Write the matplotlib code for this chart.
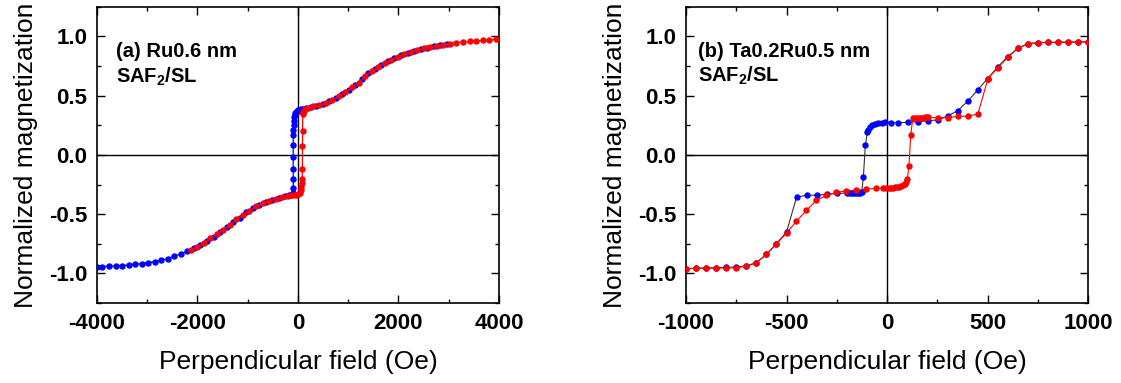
import matplotlib
matplotlib.use("Agg")
import matplotlib.pyplot as plt
from matplotlib.ticker import MultipleLocator

plt.rcParams['font.family'] = ['Liberation Sans', 'DejaVu Sans']
plt.rcParams['mathtext.fontset'] = 'custom'
plt.rcParams['mathtext.rm'] = 'Liberation Sans:bold'
plt.rcParams['mathtext.bf'] = 'Liberation Sans:bold'
plt.rcParams['axes.unicode_minus'] = False

# ---- (a) Ru0.6 nm : field in Oe, normalized magnetization ----
a_down_field = [2960, 2830, 2700, 2570, 2440, 2310, 2180, 2050, 1920, 1790,
                1660, 1530, 1400, 1270, 1140, 1010, 880, 750, 620, 490, 360,
                250, 160, 100, 60, 30, 10, -5, -20, -35, -50, -60, -70, -78,
                -85, -90, -93, -95, -95, -95, -94, -93, -100, -130, -180, -260,
                -380, -510, -640, -770, -900, -1030, -1160, -1290, -1420,
                -1550, -1680, -1810, -1940, -2070, -2200, -2330, -2460, -2590,
                -2720, -2850, -2980, -3110, -3240, -3370, -3500, -3630, -3760,
                -3890, -4000]
a_down_mag = [0.937, 0.928, 0.918, 0.905, 0.892, 0.877, 0.86, 0.84, 0.818,
              0.795, 0.76, 0.725, 0.69, 0.64, 0.59, 0.55, 0.515, 0.48, 0.455,
              0.43, 0.415, 0.405, 0.395, 0.39, 0.385, 0.38, 0.378, 0.375, 0.37,
              0.365, 0.355, 0.34, 0.32, 0.29, 0.25, 0.21, 0.17, 0.08, -0.02,
              -0.12, -0.2, -0.28, -0.32, -0.335, -0.34, -0.345, -0.36, -0.38,
              -0.4, -0.42, -0.45, -0.485, -0.53, -0.57, -0.61, -0.65, -0.69,
              -0.725, -0.76, -0.79, -0.815, -0.835, -0.855, -0.875, -0.89,
              -0.9, -0.91, -0.918, -0.925, -0.93, -0.935, -0.938, -0.94,
              -0.943, -0.945]
a_up_field = [-2135, -2005, -1875, -1745, -1615, -1485, -1355, -1225, -1095,
              -965, -835, -705, -575, -445, -315, -200, -120, -60, -20, 10, 35,
              55, 70, 78, 84, 88, 90, 92, 95, 100, 120, 150, 200, 300, 425,
              555, 685, 815, 945, 1075, 1205, 1335, 1465, 1595, 1725, 1855,
              1985, 2115, 2245, 2375, 2505, 2635, 2765, 2895, 3025, 3155, 3285,
              3415, 3545, 3675, 3805, 3935]
a_up_mag = [-0.8, -0.775, -0.745, -0.705, -0.665, -0.63, -0.59, -0.545,
            -0.505, -0.47, -0.435, -0.41, -0.39, -0.37, -0.352, -0.345, -0.342,
            -0.34, -0.335, -0.33, -0.32, -0.3, -0.27, -0.24, -0.2, -0.115,
            0.075, 0.2, 0.345, 0.36, 0.375, 0.385, 0.395, 0.41, 0.418, 0.44,
            0.465, 0.495, 0.53, 0.57, 0.61, 0.665, 0.71, 0.745, 0.78, 0.805,
            0.83, 0.85, 0.868, 0.885, 0.9, 0.912, 0.922, 0.932, 0.94, 0.948,
            0.953, 0.958, 0.963, 0.967, 0.972, 0.977]

# ---- (b) Ta0.2Ru0.5 nm ----
b_down_field = [1000, 950, 900, 850, 800, 750, 700, 650, 600, 550, 500, 452,
                403, 353, 303, 254, 204, 154, 104, 55, 20, -10, -26, -43, -60,
                -73, -85, -93, -98, -108, -118, -126, -135, -145, -155, -165,
                -175, -185, -200, -250, -300, -350, -400, -450, -500, -550,
                -600, -650, -700, -750, -800, -850, -900, -950, -1000]
b_down_mag = [0.955, 0.952, 0.952, 0.95, 0.95, 0.948, 0.94, 0.90, 0.83, 0.74,
              0.645, 0.55, 0.457, 0.375, 0.33, 0.295, 0.29, 0.28, 0.277, 0.27,
              0.272, 0.275, 0.27, 0.269, 0.263, 0.252, 0.233, 0.21, 0.19, 0.08,
              -0.19, -0.315, -0.32, -0.32, -0.322, -0.322, -0.322, -0.323,
              -0.323, -0.325, -0.333, -0.34, -0.34, -0.357, -0.65, -0.75,
              -0.84, -0.91, -0.938, -0.947, -0.95, -0.952, -0.955, -0.957,
              -0.96]
b_up_field = [-1000, -950, -900, -850, -800, -750, -700, -650, -600, -550,
              -500, -451, -401, -351, -302, -252, -202, -152, -103, -53, -20,
              -3, 10, 20, 30, 40, 50, 60, 70, 80, 88, 95, 101, 109, 118, 128,
              137, 147, 157, 167, 177, 187, 197, 204, 254, 303, 353, 403, 452,
              502, 552, 601, 651, 700, 750, 800, 850, 900, 950, 1000]
b_up_mag = [-0.96, -0.958, -0.957, -0.955, -0.955, -0.952, -0.94, -0.91,
            -0.84, -0.75, -0.66, -0.56, -0.468, -0.384, -0.342, -0.317, -0.303,
            -0.297, -0.289, -0.283, -0.281, -0.28, -0.28, -0.279, -0.277,
            -0.275, -0.272, -0.268, -0.262, -0.255, -0.245, -0.232, -0.205,
            -0.09, 0.17, 0.31, 0.312, 0.315, 0.315, 0.316, 0.316, 0.317, 0.317,
            0.317, 0.313, 0.316, 0.325, 0.328, 0.345, 0.644, 0.737, 0.826,
            0.90, 0.935, 0.947, 0.95, 0.952, 0.953, 0.955, 0.955]


def style_axes(ax, xlim, xmajor, xminor):
    ax.set_xlim(xlim)
    ax.set_ylim(-1.25, 1.25)
    ax.xaxis.set_major_locator(MultipleLocator(xmajor))
    ax.xaxis.set_minor_locator(MultipleLocator(xminor))
    ax.yaxis.set_major_locator(MultipleLocator(0.5))
    ax.yaxis.set_minor_locator(MultipleLocator(0.25))
    ax.tick_params(which='both', direction='in', top=True, right=True,
                   width=1.0, labelsize=16)
    ax.tick_params(which='major', length=6, pad=7)
    ax.tick_params(which='minor', length=3)
    for lab in ax.get_xticklabels() + ax.get_yticklabels():
        lab.set_fontweight('bold')
    for sp in ax.spines.values():
        sp.set_linewidth(1.2)
    ax.axhline(0, color='black', lw=1.0, zorder=1)
    ax.axvline(0, color='black', lw=1.0, zorder=1)
    ax.set_xlabel('Perpendicular field (Oe)', fontsize=19, labelpad=12)
    ax.set_ylabel('Normalized magnetization', fontsize=19, labelpad=8)


fig = plt.figure(figsize=(11.21, 3.83), dpi=100)
ax1 = fig.add_axes([0.0865, 0.209, 0.3586, 0.773])
ax2 = fig.add_axes([0.612, 0.209, 0.3586, 0.773])

ms = 3.6
ax1.plot(a_down_field, a_down_mag, '-o', color='blue', lw=0.9, ms=ms, zorder=3)
ax1.plot(a_up_field, a_up_mag, '-o', color='red', mfc='red', mec='red',
         lw=0.9, ms=ms, zorder=4)
style_axes(ax1, (-4000, 4000), 2000, 1000)
ax1.text(0.047, 0.832, '(a) Ru0.6 nm', transform=ax1.transAxes,
         fontsize=14.5, fontweight='bold')
ax1.text(0.047, 0.743, r'SAF$_2$/SL', transform=ax1.transAxes,
         fontsize=14.5, fontweight='bold')

ax2.plot(b_down_field, b_down_mag, '-', color='#333333', lw=0.8, zorder=3)
ax2.plot(b_down_field, b_down_mag, 'o', color='blue', ms=ms, zorder=3)
ax2.plot(b_up_field, b_up_mag, '-o', color='red', lw=0.8, ms=ms, zorder=4)
style_axes(ax2, (-1000, 1000), 500, 250)
ax2.text(0.03, 0.832, '(b) Ta0.2Ru0.5 nm', transform=ax2.transAxes,
         fontsize=14.5, fontweight='bold')
ax2.text(0.03, 0.748, r'SAF$_2$/SL', transform=ax2.transAxes,
         fontsize=14.5, fontweight='bold')

fig.savefig('out.png', dpi=100)
